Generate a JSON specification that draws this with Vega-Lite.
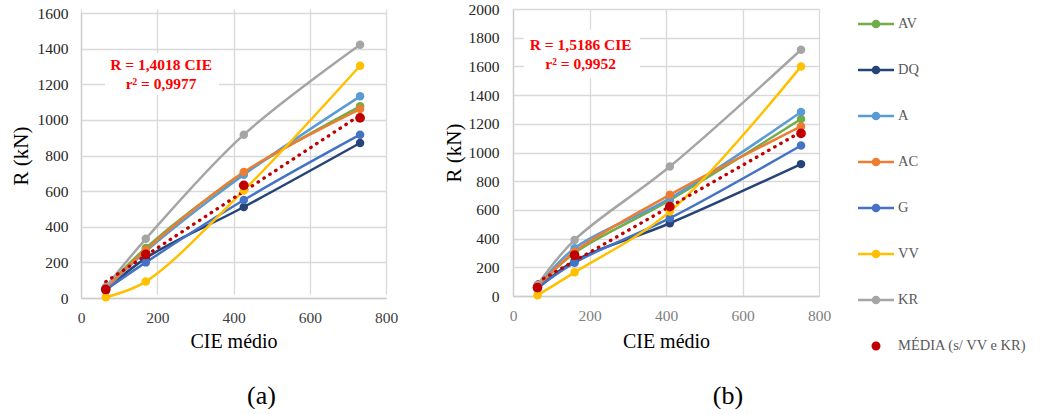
{
  "$schema": "https://vega.github.io/schema/vega-lite/v6.json",
  "background": "white",
  "padding": {"left": 10, "top": 2, "right": 0, "bottom": 0},
  "config": {
    "font": "Liberation Serif",
    "view": {"stroke": null},
    "axis": {
      "gridColor": "#d9d9d9",
      "gridWidth": 1.3,
      "domainColor": "#cccccc",
      "domainWidth": 1.3,
      "ticks": false,
      "labelFont": "Liberation Serif",
      "labelFontSize": 15.5,
      "labelColor": "#262626",
      "titleFont": "Liberation Serif",
      "titleFontWeight": "normal",
      "titleColor": "#000000"
    },
    "legend": {
      "labelFont": "Liberation Serif",
      "labelFontSize": 14.5,
      "labelColor": "#595959"
    }
  },
  "datasets": {
    "a": [
      {"serie": "AV", "cie": 65, "r": 55}, {"serie": "AV", "cie": 170, "r": 281}, {"serie": "AV", "cie": 427, "r": 700}, {"serie": "AV", "cie": 732, "r": 1076},
      {"serie": "DQ", "cie": 65, "r": 42}, {"serie": "DQ", "cie": 170, "r": 224}, {"serie": "DQ", "cie": 427, "r": 511}, {"serie": "DQ", "cie": 732, "r": 870},
      {"serie": "A", "cie": 65, "r": 50}, {"serie": "A", "cie": 170, "r": 262}, {"serie": "A", "cie": 427, "r": 692}, {"serie": "A", "cie": 732, "r": 1132},
      {"serie": "AC", "cie": 65, "r": 53}, {"serie": "AC", "cie": 170, "r": 270}, {"serie": "AC", "cie": 427, "r": 707}, {"serie": "AC", "cie": 732, "r": 1061},
      {"serie": "G", "cie": 65, "r": 46}, {"serie": "G", "cie": 170, "r": 200}, {"serie": "G", "cie": 427, "r": 550}, {"serie": "G", "cie": 732, "r": 917},
      {"serie": "VV", "cie": 65, "r": 4}, {"serie": "VV", "cie": 170, "r": 92}, {"serie": "VV", "cie": 427, "r": 604}, {"serie": "VV", "cie": 732, "r": 1304},
      {"serie": "KR", "cie": 65, "r": 62}, {"serie": "KR", "cie": 170, "r": 332}, {"serie": "KR", "cie": 427, "r": 917}, {"serie": "KR", "cie": 732, "r": 1422},
      {"serie": "MÉDIA (s/ VV e KR)", "cie": 65, "r": 48}, {"serie": "MÉDIA (s/ VV e KR)", "cie": 170, "r": 245}, {"serie": "MÉDIA (s/ VV e KR)", "cie": 427, "r": 632}, {"serie": "MÉDIA (s/ VV e KR)", "cie": 732, "r": 1011}
    ],
    "b": [
      {"serie": "AV", "cie": 64, "r": 62}, {"serie": "AV", "cie": 161, "r": 300}, {"serie": "AV", "cie": 410, "r": 668}, {"serie": "AV", "cie": 753, "r": 1233},
      {"serie": "DQ", "cie": 64, "r": 52}, {"serie": "DQ", "cie": 161, "r": 245}, {"serie": "DQ", "cie": 410, "r": 507}, {"serie": "DQ", "cie": 753, "r": 919},
      {"serie": "A", "cie": 64, "r": 65}, {"serie": "A", "cie": 161, "r": 333}, {"serie": "A", "cie": 410, "r": 680}, {"serie": "A", "cie": 753, "r": 1282},
      {"serie": "AC", "cie": 64, "r": 60}, {"serie": "AC", "cie": 161, "r": 309}, {"serie": "AC", "cie": 410, "r": 705}, {"serie": "AC", "cie": 753, "r": 1182},
      {"serie": "G", "cie": 64, "r": 55}, {"serie": "G", "cie": 161, "r": 232}, {"serie": "G", "cie": 410, "r": 542}, {"serie": "G", "cie": 753, "r": 1049},
      {"serie": "VV", "cie": 64, "r": 5}, {"serie": "VV", "cie": 161, "r": 165}, {"serie": "VV", "cie": 410, "r": 588}, {"serie": "VV", "cie": 753, "r": 1600},
      {"serie": "KR", "cie": 64, "r": 78}, {"serie": "KR", "cie": 161, "r": 391}, {"serie": "KR", "cie": 410, "r": 902}, {"serie": "KR", "cie": 753, "r": 1716},
      {"serie": "MÉDIA (s/ VV e KR)", "cie": 64, "r": 59}, {"serie": "MÉDIA (s/ VV e KR)", "cie": 161, "r": 284}, {"serie": "MÉDIA (s/ VV e KR)", "cie": 410, "r": 623}, {"serie": "MÉDIA (s/ VV e KR)", "cie": 753, "r": 1133}
    ],
    "trend_a": [{"cie": 65, "r": 91.1}, {"cie": 732, "r": 1026.1}],
    "trend_b": [{"cie": 64, "r": 97.2}, {"cie": 753, "r": 1143.5}]
  },
  "spacing": 45,
  "resolve": {"scale": {"color": "shared"}},
  "hconcat": [
    {
      "width": 305,
      "height": 289,
      "title": {"text": "(a)", "orient": "bottom", "fontSize": 26, "font": "Liberation Serif", "fontWeight": "normal", "color": "#000000", "dx": 28, "offset": 31},
      "layer": [
        {
          "data": {"name": "a"},
          "transform": [{"filter": "datum.serie !== 'MÉDIA (s/ VV e KR)'"}],
          "mark": {"type": "line", "interpolate": "catmull-rom", "strokeWidth": 2.5},
          "encoding": {
            "x": {"field": "cie", "type": "quantitative", "scale": {"domain": [0, 800], "nice": false}, "axis": {"values": [0, 200, 400, 600, 800], "format": "d", "title": "CIE médio", "titleFontSize": 20, "labelFont": "Liberation Serif", "titleFont": "Liberation Serif", "labelPadding": 12, "titlePadding": 6, "labelColor": "#404040", "labelOverlap": false, "labelFlush": false}},
            "y": {"field": "r", "type": "quantitative", "scale": {"domain": [0, 1600], "nice": false, "range": [289, 4]}, "axis": {"values": [0, 200, 400, 600, 800, 1000, 1200, 1400, 1600], "format": "d", "title": "R (kN)", "titleFontSize": 21, "labelFont": "Liberation Serif", "titleFont": "Liberation Serif", "labelPadding": 13, "titlePadding": 6, "labelOverlap": false}},
            "color": {
              "field": "serie", "type": "nominal",
              "scale": {"domain": ["AV", "DQ", "A", "AC", "G", "VV", "KR", "MÉDIA (s/ VV e KR)"], "range": ["#70AD47", "#264478", "#5B9BD5", "#ED7D31", "#4472C4", "#FFC000", "#A5A5A5", "#C00000"]},
              "legend": {
                "title": null,
                "orient": "none",
                "legendX": 777,
                "legendY": -3,
                "padding": 0,
                "rowPadding": 21,
                "labelOffset": 4,
                "labelLimit": 300,
                "labelFont": "Liberation Serif",
                "symbolSize": 1296,
                "symbolStrokeWidth": 0,
                "encode": {
                  "symbols": {
                    "update": {
                      "shape": {"signal": "datum.label === 'MÉDIA (s/ VV e KR)' ? 'M0.25,0A0.25,0.25,0,1,1,-0.25,0A0.25,0.25,0,1,1,0.25,0Z' : 'M-1,-0.07H1V0.07H-1Z M0.24,0A0.24,0.24,0,1,1,-0.24,0A0.24,0.24,0,1,1,0.24,0Z'"},
                      "fill": {"scale": "color", "field": "value"},
                      "stroke": {"value": "transparent"},
                      "opacity": {"value": 1},
                      "size": {"value": 1296}
                    }
                  }
                }
              }
            }
          }
        },
        {
          "data": {"name": "trend_a"},
          "mark": {"type": "line", "color": "#C00000", "strokeWidth": 3.3, "strokeDash": [0.5, 6.5], "strokeCap": "round"},
          "encoding": {
            "x": {"field": "cie", "type": "quantitative", "axis": {"values": [0, 200, 400, 600, 800], "format": "d", "title": "CIE médio", "titleFontSize": 20, "labelFont": "Liberation Serif", "titleFont": "Liberation Serif", "labelPadding": 12, "titlePadding": 6, "labelColor": "#404040", "labelOverlap": false, "labelFlush": false}},
            "y": {"field": "r", "type": "quantitative", "axis": {"values": [0, 200, 400, 600, 800, 1000, 1200, 1400, 1600], "format": "d", "title": "R (kN)", "titleFontSize": 21, "labelFont": "Liberation Serif", "titleFont": "Liberation Serif", "labelPadding": 13, "titlePadding": 6, "labelOverlap": false}}
          }
        },
        {
          "data": {"name": "a"},
          "transform": [{"filter": "datum.serie !== 'MÉDIA (s/ VV e KR)'"}],
          "mark": {"type": "point", "filled": true, "size": 72, "opacity": 1},
          "encoding": {
            "x": {"field": "cie", "type": "quantitative", "axis": {"values": [0, 200, 400, 600, 800], "format": "d", "title": "CIE médio", "titleFontSize": 20, "labelFont": "Liberation Serif", "titleFont": "Liberation Serif", "labelPadding": 12, "titlePadding": 6, "labelColor": "#404040", "labelOverlap": false, "labelFlush": false}},
            "y": {"field": "r", "type": "quantitative", "axis": {"values": [0, 200, 400, 600, 800, 1000, 1200, 1400, 1600], "format": "d", "title": "R (kN)", "titleFontSize": 21, "labelFont": "Liberation Serif", "titleFont": "Liberation Serif", "labelPadding": 13, "titlePadding": 6, "labelOverlap": false}},
            "color": {"field": "serie", "type": "nominal"}
          }
        },
        {
          "data": {"name": "a"},
          "transform": [{"filter": "datum.serie === 'MÉDIA (s/ VV e KR)'"}],
          "mark": {"type": "point", "filled": true, "size": 95, "opacity": 1},
          "encoding": {
            "x": {"field": "cie", "type": "quantitative", "axis": {"values": [0, 200, 400, 600, 800], "format": "d", "title": "CIE médio", "titleFontSize": 20, "labelFont": "Liberation Serif", "titleFont": "Liberation Serif", "labelPadding": 12, "titlePadding": 6, "labelColor": "#404040", "labelOverlap": false, "labelFlush": false}},
            "y": {"field": "r", "type": "quantitative", "axis": {"values": [0, 200, 400, 600, 800, 1000, 1200, 1400, 1600], "format": "d", "title": "R (kN)", "titleFontSize": 21, "labelFont": "Liberation Serif", "titleFont": "Liberation Serif", "labelPadding": 13, "titlePadding": 6, "labelOverlap": false}},
            "color": {"field": "serie", "type": "nominal"}
          }
        },
        {
          "data": {"values": [{}]},
          "mark": {"type": "rect", "fill": "white"},
          "encoding": {
            "x": {"datum": 63, "type": "quantitative", "axis": {"values": [0, 200, 400, 600, 800], "format": "d", "title": "CIE médio", "titleFontSize": 20, "labelFont": "Liberation Serif", "titleFont": "Liberation Serif", "labelPadding": 12, "titlePadding": 6, "labelColor": "#404040", "labelOverlap": false, "labelFlush": false}},
            "x2": {"datum": 362},
            "y": {"datum": 1375, "type": "quantitative", "axis": {"values": [0, 200, 400, 600, 800, 1000, 1200, 1400, 1600], "format": "d", "title": "R (kN)", "titleFontSize": 21, "labelFont": "Liberation Serif", "titleFont": "Liberation Serif", "labelPadding": 13, "titlePadding": 6, "labelOverlap": false}},
            "y2": {"datum": 1140}
          }
        },
        {
          "data": {"values": [{}]},
          "mark": {"type": "text", "text": ["R = 1,4018 CIE", "r² = 0,9977"], "font": "Liberation Serif", "fontSize": 15.5, "fontWeight": "bold", "color": "#FF0000", "align": "center", "baseline": "middle", "lineHeight": 19},
          "encoding": {
            "x": {"datum": 210, "type": "quantitative", "axis": {"values": [0, 200, 400, 600, 800], "format": "d", "title": "CIE médio", "titleFontSize": 20, "labelFont": "Liberation Serif", "titleFont": "Liberation Serif", "labelPadding": 12, "titlePadding": 6, "labelColor": "#404040", "labelOverlap": false, "labelFlush": false}},
            "y": {"datum": 1308, "type": "quantitative", "axis": {"values": [0, 200, 400, 600, 800, 1000, 1200, 1400, 1600], "format": "d", "title": "R (kN)", "titleFontSize": 21, "labelFont": "Liberation Serif", "titleFont": "Liberation Serif", "labelPadding": 13, "titlePadding": 6, "labelOverlap": false}}
          }
        }
      ]
    },
    {
      "width": 306,
      "height": 287,
      "title": {"text": "(b)", "orient": "bottom", "fontSize": 26, "font": "Liberation Serif", "fontWeight": "normal", "color": "#000000", "dx": 62, "offset": 31},
      "layer": [
        {
          "data": {"name": "b"},
          "transform": [{"filter": "datum.serie !== 'MÉDIA (s/ VV e KR)'"}],
          "mark": {"type": "line", "interpolate": "catmull-rom", "strokeWidth": 2.5},
          "encoding": {
            "x": {"field": "cie", "type": "quantitative", "scale": {"domain": [0, 800], "nice": false}, "axis": {"values": [0, 200, 400, 600, 800], "format": "d", "title": "CIE médio", "titleFontSize": 20, "labelFont": "Liberation Serif", "titleFont": "Liberation Serif", "labelPadding": 12, "titlePadding": 8, "labelColor": "#7f7f7f", "labelOverlap": false, "labelFlush": false}},
            "y": {"field": "r", "type": "quantitative", "scale": {"domain": [0, 2000], "nice": false}, "axis": {"values": [0, 200, 400, 600, 800, 1000, 1200, 1400, 1600, 1800, 2000], "format": "d", "title": "R (kN)", "titleFontSize": 21, "labelFont": "Liberation Serif", "titleFont": "Liberation Serif", "labelPadding": 14, "titlePadding": 4, "labelOverlap": false}},
            "color": {"field": "serie", "type": "nominal"}
          }
        },
        {
          "data": {"name": "trend_b"},
          "mark": {"type": "line", "color": "#C00000", "strokeWidth": 3.3, "strokeDash": [0.5, 6.5], "strokeCap": "round"},
          "encoding": {
            "x": {"field": "cie", "type": "quantitative", "axis": {"values": [0, 200, 400, 600, 800], "format": "d", "title": "CIE médio", "titleFontSize": 20, "labelFont": "Liberation Serif", "titleFont": "Liberation Serif", "labelPadding": 12, "titlePadding": 8, "labelColor": "#7f7f7f", "labelOverlap": false, "labelFlush": false}},
            "y": {"field": "r", "type": "quantitative", "axis": {"values": [0, 200, 400, 600, 800, 1000, 1200, 1400, 1600, 1800, 2000], "format": "d", "title": "R (kN)", "titleFontSize": 21, "labelFont": "Liberation Serif", "titleFont": "Liberation Serif", "labelPadding": 14, "titlePadding": 4, "labelOverlap": false}}
          }
        },
        {
          "data": {"name": "b"},
          "transform": [{"filter": "datum.serie !== 'MÉDIA (s/ VV e KR)'"}],
          "mark": {"type": "point", "filled": true, "size": 72, "opacity": 1},
          "encoding": {
            "x": {"field": "cie", "type": "quantitative", "axis": {"values": [0, 200, 400, 600, 800], "format": "d", "title": "CIE médio", "titleFontSize": 20, "labelFont": "Liberation Serif", "titleFont": "Liberation Serif", "labelPadding": 12, "titlePadding": 8, "labelColor": "#7f7f7f", "labelOverlap": false, "labelFlush": false}},
            "y": {"field": "r", "type": "quantitative", "axis": {"values": [0, 200, 400, 600, 800, 1000, 1200, 1400, 1600, 1800, 2000], "format": "d", "title": "R (kN)", "titleFontSize": 21, "labelFont": "Liberation Serif", "titleFont": "Liberation Serif", "labelPadding": 14, "titlePadding": 4, "labelOverlap": false}},
            "color": {"field": "serie", "type": "nominal"}
          }
        },
        {
          "data": {"name": "b"},
          "transform": [{"filter": "datum.serie === 'MÉDIA (s/ VV e KR)'"}],
          "mark": {"type": "point", "filled": true, "size": 95, "opacity": 1},
          "encoding": {
            "x": {"field": "cie", "type": "quantitative", "axis": {"values": [0, 200, 400, 600, 800], "format": "d", "title": "CIE médio", "titleFontSize": 20, "labelFont": "Liberation Serif", "titleFont": "Liberation Serif", "labelPadding": 12, "titlePadding": 8, "labelColor": "#7f7f7f", "labelOverlap": false, "labelFlush": false}},
            "y": {"field": "r", "type": "quantitative", "axis": {"values": [0, 200, 400, 600, 800, 1000, 1200, 1400, 1600, 1800, 2000], "format": "d", "title": "R (kN)", "titleFontSize": 21, "labelFont": "Liberation Serif", "titleFont": "Liberation Serif", "labelPadding": 14, "titlePadding": 4, "labelOverlap": false}},
            "color": {"field": "serie", "type": "nominal"}
          }
        },
        {
          "data": {"values": [{}]},
          "mark": {"type": "rect", "fill": "white"},
          "encoding": {
            "x": {"datum": 28, "type": "quantitative", "axis": {"values": [0, 200, 400, 600, 800], "format": "d", "title": "CIE médio", "titleFontSize": 20, "labelFont": "Liberation Serif", "titleFont": "Liberation Serif", "labelPadding": 12, "titlePadding": 8, "labelColor": "#7f7f7f", "labelOverlap": false, "labelFlush": false}},
            "x2": {"datum": 332},
            "y": {"datum": 1856, "type": "quantitative", "axis": {"values": [0, 200, 400, 600, 800, 1000, 1200, 1400, 1600, 1800, 2000], "format": "d", "title": "R (kN)", "titleFontSize": 21, "labelFont": "Liberation Serif", "titleFont": "Liberation Serif", "labelPadding": 14, "titlePadding": 4, "labelOverlap": false}},
            "y2": {"datum": 1521}
          }
        },
        {
          "data": {"values": [{}]},
          "mark": {"type": "text", "text": ["R = 1,5186 CIE", "r² = 0,9952"], "font": "Liberation Serif", "fontSize": 15.5, "fontWeight": "bold", "color": "#FF0000", "align": "center", "baseline": "middle", "lineHeight": 19},
          "encoding": {
            "x": {"datum": 177, "type": "quantitative", "axis": {"values": [0, 200, 400, 600, 800], "format": "d", "title": "CIE médio", "titleFontSize": 20, "labelFont": "Liberation Serif", "titleFont": "Liberation Serif", "labelPadding": 12, "titlePadding": 8, "labelColor": "#7f7f7f", "labelOverlap": false, "labelFlush": false}},
            "y": {"datum": 1751, "type": "quantitative", "axis": {"values": [0, 200, 400, 600, 800, 1000, 1200, 1400, 1600, 1800, 2000], "format": "d", "title": "R (kN)", "titleFontSize": 21, "labelFont": "Liberation Serif", "titleFont": "Liberation Serif", "labelPadding": 14, "titlePadding": 4, "labelOverlap": false}}
          }
        }
      ]
    }
  ]
}
